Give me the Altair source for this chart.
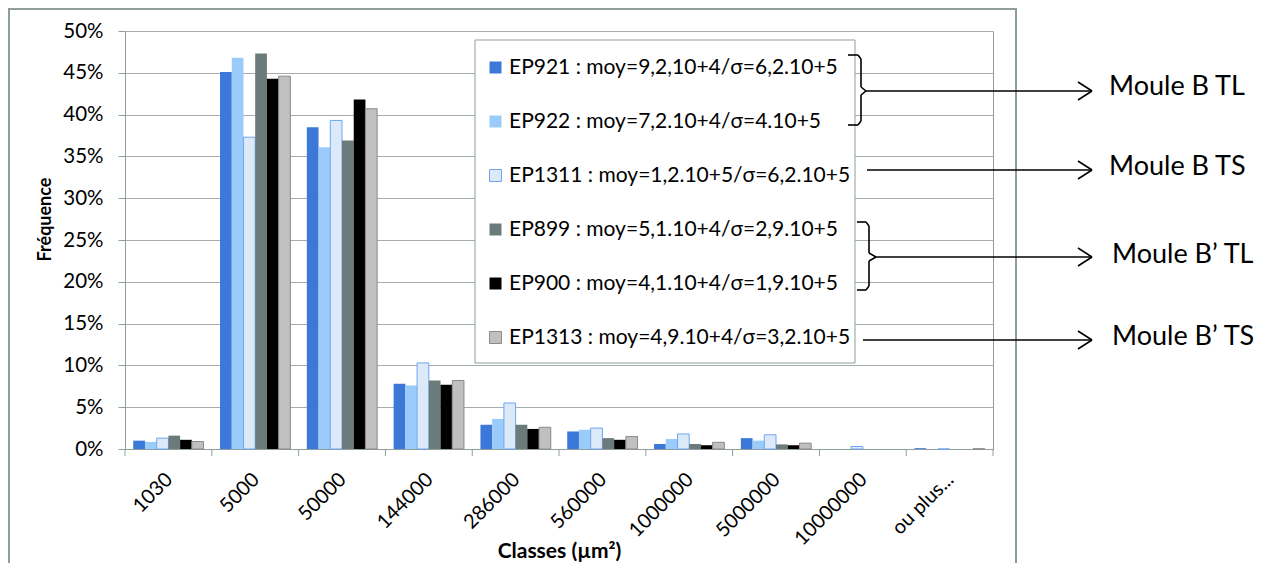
import altair as alt
import pandas as pd

categories = ["1030", "5000", "50000", "144000", "286000", "560000",
              "1000000", "5000000", "10000000", "ou plus..."]

series_labels = [
    "EP921 : moy=9,2,10+4/σ=6,2.10+5",
    "EP922 : moy=7,2.10+4/σ=4.10+5",
    "EP1311 : moy=1,2.10+5/σ=6,2.10+5",
    "EP899 : moy=5,1.10+4/σ=2,9.10+5",
    "EP900 : moy=4,1.10+4/σ=1,9.10+5",
    "EP1313 : moy=4,9.10+4/σ=3,2.10+5",
]

# frequencies in percent
ep921 = [1.0, 45.1, 38.5, 7.8, 2.9, 2.1, 0.6, 1.3, 0.0, 0.1]
ep922 = [0.85, 46.8, 36.1, 7.6, 3.6, 2.3, 1.2, 1.0, 0.0, 0.0]
ep1311 = [1.3, 37.3, 39.3, 10.3, 5.5, 2.5, 1.8, 1.7, 0.3, 0.0]
ep899 = [1.6, 47.3, 36.9, 8.2, 2.9, 1.3, 0.6, 0.55, 0.0, 0.0]
ep900 = [1.1, 44.3, 41.8, 7.7, 2.4, 1.1, 0.45, 0.45, 0.0, 0.0]
ep1313 = [0.9, 44.6, 40.7, 8.2, 2.6, 1.5, 0.8, 0.7, 0.0, 0.03]

y_ticks = [0, 0.05, 0.10, 0.15, 0.20, 0.25, 0.30, 0.35, 0.40, 0.45, 0.50]

fills = ["#3b78d8", "#9bcbfb", "#dce9f9", "#6b7b7b", "#000000", "#c0c0c0"]
strokes = ["transparent", "transparent", "#6ea6ee", "transparent", "transparent", "#8a8a8a"]

series_values = [ep921, ep922, ep1311, ep899, ep900, ep1313]
rows = []
for lab, vals in zip(series_labels, series_values):
    for c, v in zip(categories, vals):
        rows.append({"cat": c, "series": lab, "value": v / 100.0})
df = pd.DataFrame(rows)

FONT = "Lato"
GRID = "#a3adad"
FRAME = "#8f9d9d"
OX, OY = 125, 31  # plot origin on the page

leg = alt.Legend(
    title=None, orient="none", legendX=347, legendY=13,
    symbolType="square", symbolSize=144, symbolStrokeWidth=1,
    labelFont=FONT, labelFontSize=21, labelColor="#000", labelLimit=500,
    labelOffset=3, rowPadding=32, padding=13,
)

bars = alt.Chart(df).transform_filter(
    (alt.datum.value > 0) | (alt.datum.series == series_labels[2])
).mark_bar(strokeWidth=1).encode(
    x=alt.X("cat:N", sort=categories,
            scale=alt.Scale(domain=categories, paddingInner=0.19, paddingOuter=0.095),
            axis=alt.Axis(title="Classes (µm²)", labelAngle=315, labelAlign="right",
                          labelBaseline="top", labelPadding=20, labelOffset=-6, ticks=False,
                          domainColor=FRAME, labelFont=FONT, labelFontSize=20,
                          labelColor="#000", titleFont=FONT, titleFontSize=21,
                          titleFontWeight="bold", titleColor="#000",
                          titleX=434, titleY=102, titleBaseline="middle")),
    xOffset=alt.XOffset("series:N", sort=series_labels,
                        scale=alt.Scale(domain=series_labels, paddingInner=0, paddingOuter=0)),
    y=alt.Y("value:Q", scale=alt.Scale(domain=[0, 0.5], nice=False),
            axis=alt.Axis(values=y_ticks, format=".0%", title="Fréquence",
                          grid=True, gridColor=GRID, domainColor=FRAME, tickColor=FRAME,
                          tickSize=7, labelPadding=15, labelFont=FONT, labelFontSize=20.5,
                          labelColor="#000", titleFont=FONT, titleFontSize=18,
                          titleFontWeight="bold", titleColor="#000", titleAngle=270,
                          titleX=-80, titleY=188, titleAlign="center",
                          titleBaseline="middle")),
    fill=alt.Fill("series:N", sort=series_labels,
                  scale=alt.Scale(domain=series_labels, range=fills), legend=leg),
    stroke=alt.Stroke("series:N", sort=series_labels,
                      scale=alt.Scale(domain=series_labels, range=strokes), legend=leg),
)

cat_df = pd.DataFrame({"cat": categories})
ticks = alt.Chart(cat_df).mark_rule(color=FRAME, strokeWidth=1, xOffset=-8.2).encode(
    x=alt.X("cat:N", sort=categories, bandPosition=0),
    y=alt.value(418), y2=alt.value(425),
)

one = pd.DataFrame({"a": [0]})


def seg(x1, y1, x2, y2, color="#000", w=1.6):
    return alt.Chart(one).mark_rule(color=color, strokeWidth=w).encode(
        x=alt.value(x1 - OX), y=alt.value(y1 - OY),
        x2=alt.value(x2 - OX), y2=alt.value(y2 - OY))


def label(txt, x, y):
    return alt.Chart(one).mark_text(text=txt, font=FONT, fontSize=27, align="left",
                                    baseline="alphabetic", color="#000").encode(
        x=alt.value(x - OX), y=alt.value(y - OY))


last_tick = seg(993, 449, 993, 456, color=FRAME, w=1)

frame = alt.Chart(one).mark_rect(fill="transparent", stroke=FRAME, strokeWidth=2).encode(
    x=alt.value(9 - OX), x2=alt.value(1016 - OX),
    y=alt.value(9 - OY), y2=alt.value(700))

legend_box = alt.Chart(one).mark_rect(fill="white", stroke=FRAME, strokeWidth=1).encode(
    x=alt.value(475 - OX), x2=alt.value(855 - OX),
    y=alt.value(40 - OY), y2=alt.value(363 - OY))

annot_segments = [
    # bracket 1
    (848, 55, 858, 55), (858, 55, 861, 59), (861, 59, 861, 87), (861, 87, 866, 91),
    (866, 91, 861, 95), (861, 95, 861, 121), (861, 121, 858, 125), (858, 125, 848, 125),
    # arrow 1
    (866, 91, 1092, 91), (1078, 82, 1092, 91), (1078, 100, 1092, 91),
    # arrow 2
    (867, 170, 1092, 170), (1078, 161, 1092, 170), (1078, 179, 1092, 170),
    # bracket 2
    (857, 222, 866, 222), (866, 222, 869, 226), (869, 226, 869, 253), (869, 253, 876, 257),
    (876, 257, 869, 261), (869, 261, 869, 286), (869, 286, 866, 290), (866, 290, 857, 290),
    # arrow 3
    (876, 257, 1092, 257), (1078, 248, 1092, 257), (1078, 266, 1092, 257),
    # arrow 4
    (863, 340, 1092, 340), (1078, 331, 1092, 340), (1078, 349, 1092, 340),
]

layers = [frame, ticks, last_tick, bars, legend_box]
layers += [seg(*s) for s in annot_segments]
layers += [
    label("Moule B TL", 1109, 95),
    label("Moule B TS", 1109, 175),
    label("Moule B’ TL", 1112, 263),
    label("Moule B’ TS", 1112, 345),
]

chart = alt.layer(*layers).properties(
    width=868, height=418,
    padding={"left": 117, "top": 23, "right": 265, "bottom": 114},
    autosize=alt.AutoSizeParams(type="none"),
    background="white",
).configure_view(stroke=FRAME, strokeWidth=1)

chart.save("out.html", embed_options={"renderer": "svg", "actions": False})
